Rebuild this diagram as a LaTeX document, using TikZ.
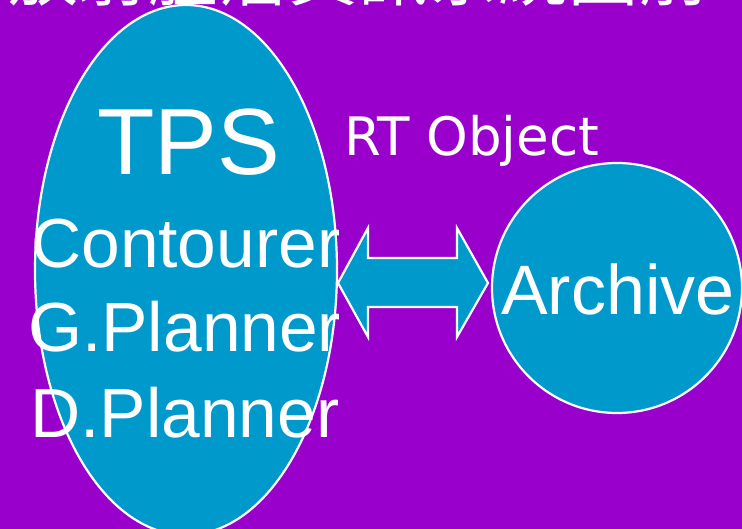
\documentclass[tikz,border=0pt]{standalone}
\usepackage{fontspec}
\setmainfont{Liberation Sans}
\newfontfamily\dejavu{DejaVu Sans}
\newfontfamily\cjk{Noto Sans CJK TC}
\usetikzlibrary{shapes.geometric}
\definecolor{bgpurple}{RGB}{153,0,204}
\definecolor{fillblue}{RGB}{0,153,204}
\tikzset{
  blob/.style={draw=white, line width=2.2pt, fill=fillblue, inner sep=0pt},
  lbl/.style={text=white, inner sep=0pt, anchor=base west},
}
\begin{document}
\begin{tikzpicture}[x=1pt,y=-1pt]
\useasboundingbox (0,0) rectangle (742,529);
\fill[bgpurple] (0,0) rectangle (742,529);
\clip (0,0) rectangle (742,529);
% cut-off title
\node[lbl] (title) at (8,1) {\cjk\fontsize{70}{70}\selectfont 放射腫瘤資訊系統圖前};
% TPS ellipse
\node[blob, ellipse, minimum width=302pt, minimum height=530pt] (tps) at (186,270) {};
% Archive circle
\node[blob, circle, minimum size=250pt] (arch) at (617,288) {};
% double arrow
\filldraw[fill=fillblue, draw=white, line width=2.2pt, line join=miter]
  (338,283) -- (368,228) -- (368,258) -- (457,258) -- (457,228) -- (488,283)
  -- (457,337) -- (457,307) -- (368,307) -- (368,337) -- cycle;
% labels
\node[lbl] (tpst) at (97,175) {\fontsize{94}{94}\selectfont TPS};
\node[lbl] (cont) at (31,268) {\fontsize{69.5}{70}\selectfont Contourer};
\node[lbl] (gpl) at (28,352) {\fontsize{69.5}{70}\selectfont G.Planner};
\node[lbl] (dpl) at (30,437) {\fontsize{69.5}{70}\selectfont D.Planner};
\node[lbl] (archt) at (501,315) {\fontsize{70}{70}\selectfont Archive};
\node[lbl] (rt) at (344,156) {\dejavu\fontsize{53}{53}\selectfont RT Object};
\end{tikzpicture}
\end{document}
